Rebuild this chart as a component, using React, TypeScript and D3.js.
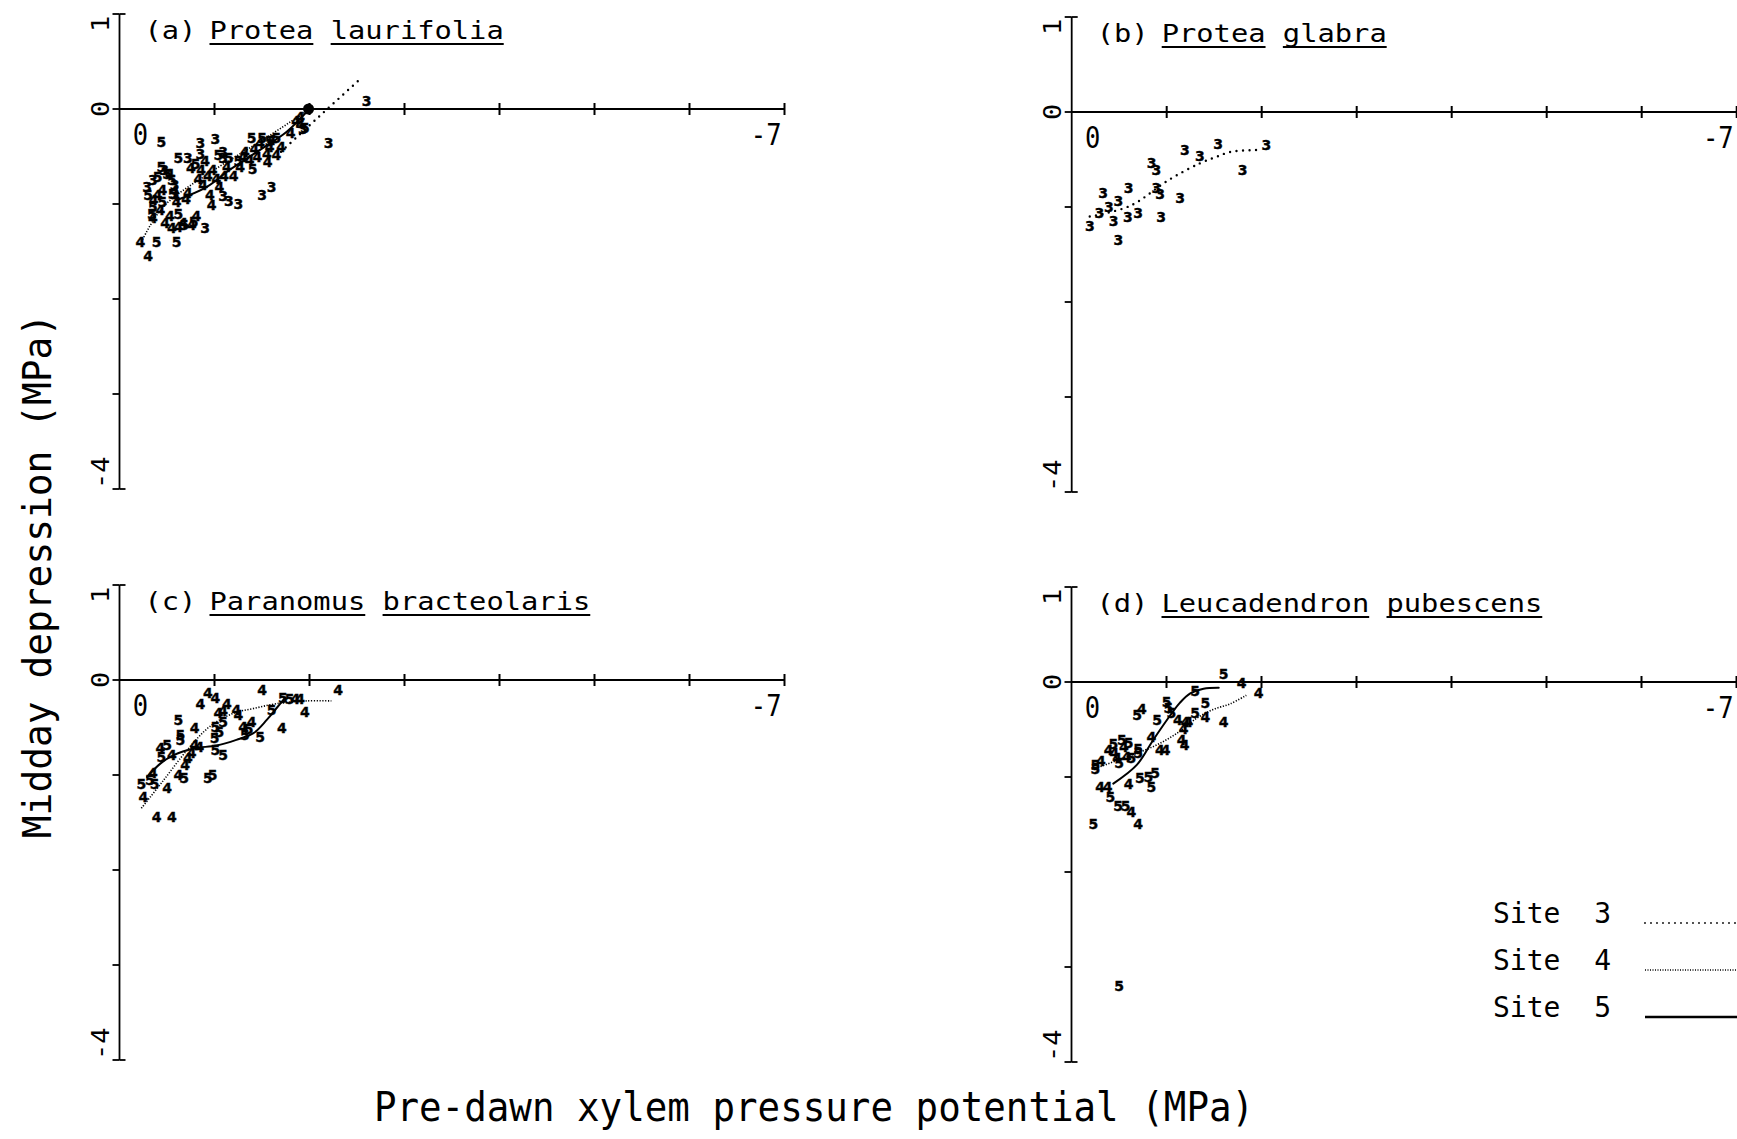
import React from "react";
import * as d3 from "d3";

// ---- data: pre-dawn (x) vs midday depression (y), MPa, by site ----
type Pt = [number, number];

const panelTags = ["(a)", "(b)", "(c)", "(d)"];
const genus = ["Protea", "Protea", "Paranomus", "Leucadendron"];
const epithet = ["laurifolia", "glabra", "bracteolaris", "pubescens"];

const siteNames = ["3", "4", "5"];
const xTicks = [0, -1, -2, -3, -4, -5, -6, -7];
const yTicks = [1, 0, -1, -2, -3, -4];

const aSite3: Pt[] = [[-2.6,0.08],[-2.2,-0.36],[-0.85,-0.36],[-1.01,-0.32],[-0.85,-0.47],[-1.09,-0.45],[-0.72,-0.52],[-1.09,-0.52],[-0.29,-0.82],[-0.58,-0.8],[-0.58,-0.89],[-1.09,-0.92],[-1.25,-1.0],[-1.5,-0.91],[-1.6,-0.82],[-0.9,-1.25],[-1.9,-0.15],[-1.93,-0.21],[-0.47,-0.64],[-0.35,-0.75],[-1.15,-0.97]];
const aSite4: Pt[] = [[-0.22,-1.4],[-0.3,-1.55],[-0.36,-0.96],[-0.43,-1.06],[-0.53,-1.13],[-0.48,-1.2],[-0.62,-1.24],[-0.67,-1.2],[-0.76,-1.22],[-0.81,-1.13],[-0.53,-0.68],[-0.58,-0.86],[-0.86,-0.64],[-0.93,-0.71],[-0.83,-0.74],[-0.98,-0.64],[-1.02,-0.74],[-0.97,-1.01],[-1.13,-0.61],[-1.2,-0.71],[-1.27,-0.61],[-1.32,-0.45],[-1.37,-0.54],[-1.48,-0.36],[-1.55,-0.47],[-1.58,-0.4],[-1.65,-0.48],[-1.56,-0.56],[-1.9,-0.08],[-1.86,-0.13],[-0.4,-0.9],[-0.7,-0.95],[-1.05,-0.82],[-1.42,-0.42],[-0.88,-0.8],[-0.45,-0.85],[-0.6,-0.98],[-0.72,-0.88],[-0.95,-0.9],[-1.1,-0.7],[-1.3,-0.5],[-1.45,-0.5],[-1.6,-0.33],[-1.7,-0.4],[-1.8,-0.25],[-0.35,-1.15],[-0.55,-1.25],[-0.9,-0.55],[-0.75,-0.62]];
const aSite5: Pt[] = [[-0.44,-0.35],[-0.62,-0.52],[-0.39,-1.4],[-0.6,-1.4],[-1.39,-0.31],[-1.5,-0.31],[-0.44,-0.61],[-0.5,-0.68],[-0.35,-1.03],[-0.34,-1.1],[-0.78,-1.19],[-1.04,-0.48],[-1.4,-0.63],[-0.56,-0.89],[-0.45,-0.98],[-1.95,-0.2],[-1.58,-0.34],[-0.55,-0.75],[-0.68,-1.22],[-1.25,-0.55],[-0.4,-0.72],[-0.3,-0.9],[-0.62,-1.1],[-0.8,-0.58],[-1.15,-0.52],[-1.65,-0.3]];

const bSite3: Pt[] = [[-1.19,-0.4],[-1.35,-0.46],[-1.54,-0.34],[-2.05,-0.35],[-1.8,-0.61],[-0.84,-0.54],[-0.89,-0.61],[-0.33,-0.85],[-0.6,-0.8],[-0.89,-0.8],[-0.93,-0.86],[-1.14,-0.91],[-0.49,-0.94],[-0.39,-1.0],[-0.29,-1.06],[-0.7,-1.06],[-0.59,-1.11],[-0.44,-1.15],[-0.19,-1.2],[-0.94,-1.11],[-0.49,-1.35]];

const cSite4: Pt[] = [[-0.93,-0.14],[-1.01,-0.19],[-0.85,-0.25],[-1.5,-0.11],[-2.3,-0.11],[-1.9,-0.2],[-1.95,-0.34],[-1.71,-0.51],[-1.13,-0.25],[-1.04,-0.35],[-1.09,-0.33],[-1.23,-0.32],[-1.25,-0.37],[-1.39,-0.44],[-1.3,-0.49],[-0.79,-0.51],[-0.79,-0.68],[-0.84,-0.7],[-0.43,-0.72],[-0.55,-0.79],[-0.72,-0.82],[-0.76,-0.77],[-0.69,-0.89],[-0.62,-1.0],[-0.35,-0.98],[-0.5,-1.14],[-0.25,-1.23],[-0.39,-1.44],[-0.55,-1.44],[-1.85,-0.2]];
const cSite5: Pt[] = [[-1.72,-0.19],[-1.79,-0.2],[-1.6,-0.32],[-1.32,-0.58],[-1.48,-0.6],[-1.09,-0.44],[-1.01,-0.49],[-1.0,-0.61],[-1.01,-0.74],[-1.09,-0.79],[-0.62,-0.42],[-0.64,-0.58],[-0.64,-0.63],[-0.5,-0.68],[-0.44,-0.81],[-0.68,-1.03],[-0.93,-1.03],[-0.98,-1.0],[-0.23,-1.09],[-0.32,-1.05],[-0.37,-1.09],[-1.36,-0.52],[-1.05,-0.55]];

const dSite4: Pt[] = [[-1.79,-0.01],[-1.97,-0.12],[-1.6,-0.42],[-1.41,-0.37],[-1.23,-0.42],[-1.12,-0.4],[-1.2,-0.42],[-1.18,-0.49],[-1.16,-0.61],[-1.19,-0.66],[-0.74,-0.28],[-0.84,-0.58],[-0.93,-0.72],[-0.99,-0.72],[-0.39,-0.72],[-0.58,-0.79],[-0.31,-0.83],[-0.45,-0.75],[-0.6,-1.07],[-0.3,-1.1],[-0.38,-1.1],[-0.63,-1.37],[-0.7,-1.49],[-0.55,-0.68],[-0.48,-0.8]];
const dSite5: Pt[] = [[-1.6,0.08],[-1.3,-0.09],[-1.41,-0.22],[-1.3,-0.33],[-1.0,-0.21],[-1.02,-0.27],[-1.05,-0.33],[-0.69,-0.35],[-0.9,-0.4],[-0.7,-0.7],[-0.53,-0.61],[-0.25,-0.87],[-0.25,-0.92],[-0.5,-0.85],[-0.63,-0.8],[-0.7,-0.75],[-0.81,-1.0],[-0.88,-0.96],[-0.72,-1.01],[-0.84,-1.1],[-0.41,-1.21],[-0.49,-1.31],[-0.57,-1.31],[-0.23,-1.49],[-0.5,-3.2],[-0.44,-0.65],[-0.6,-0.64]];

// fitted trend curves per site
const aFit3: Pt[] = [[-1.7,-0.45],[-2.1,-0.08],[-2.55,0.33]];
const aFit4: Pt[] = [[-0.23,-1.4],[-0.46,-1.03],[-1.0,-0.64],[-1.5,-0.33],[-1.99,-0.01]];
const aFit5: Pt[] = [[-0.6,-0.96],[-0.92,-0.82],[-1.16,-0.64],[-1.48,-0.43],[-1.76,-0.24],[-1.99,-0.01]];
const bFit3: Pt[] = [[-0.19,-1.1],[-0.61,-0.99],[-1.03,-0.71],[-1.35,-0.54],[-1.53,-0.47],[-1.67,-0.42],[-1.95,-0.4]];
const cFit4: Pt[] = [[-0.23,-1.35],[-0.46,-1.06],[-0.71,-0.74],[-0.95,-0.49],[-1.2,-0.35],[-1.41,-0.3],[-1.65,-0.25],[-1.97,-0.22],[-2.23,-0.22]];
const cFit5: Pt[] = [[-0.29,-1.02],[-0.43,-0.88],[-0.57,-0.79],[-0.78,-0.72],[-1.02,-0.69],[-1.23,-0.63],[-1.41,-0.56],[-1.55,-0.42],[-1.65,-0.3],[-1.74,-0.19]];
const dFit4: Pt[] = [[-0.25,-0.91],[-0.55,-0.8],[-0.86,-0.68],[-1.11,-0.54],[-1.32,-0.38],[-1.49,-0.29],[-1.67,-0.23],[-1.84,-0.14]];
const dFit5: Pt[] = [[-0.44,-1.07],[-0.69,-0.87],[-0.86,-0.61],[-1.04,-0.35],[-1.14,-0.22],[-1.25,-0.12],[-1.39,-0.07],[-1.55,-0.06]];

// convergence point of the fits in (a)
const aJoin: Pt = [-1.99, 0];

const W = 1737;
const H = 1139;
const UNIT = 95;
const MONO = "'DejaVu Sans Mono', monospace";

type SiteSet = { site: string; pts: Pt[] }[];

const panels: { ox: number; oy: number; points: SiteSet; fits: SiteSet; join?: Pt }[] = [
  { ox: 119.5, oy: 109, points: [{ site: "3", pts: aSite3 }, { site: "4", pts: aSite4 }, { site: "5", pts: aSite5 }], fits: [{ site: "3", pts: aFit3 }, { site: "4", pts: aFit4 }, { site: "5", pts: aFit5 }], join: aJoin },
  { ox: 1071.7, oy: 112, points: [{ site: "3", pts: bSite3 }], fits: [{ site: "3", pts: bFit3 }] },
  { ox: 119.5, oy: 680, points: [{ site: "4", pts: cSite4 }, { site: "5", pts: cSite5 }], fits: [{ site: "4", pts: cFit4 }, { site: "5", pts: cFit5 }] },
  { ox: 1071.5, oy: 682, points: [{ site: "4", pts: dSite4 }, { site: "5", pts: dSite5 }], fits: [{ site: "4", pts: dFit4 }, { site: "5", pts: dFit5 }] },
];

function fitStyle(site: string) {
  if (site === "3") return { strokeWidth: 2.4, strokeDasharray: "0 6.5", strokeLinecap: "round" as const };
  if (site === "4") return { strokeWidth: 1.6, strokeDasharray: "1.2 1.6", strokeLinecap: "butt" as const };
  return { strokeWidth: 2, strokeDasharray: undefined, strokeLinecap: "round" as const };
}

function Panel({ idx }: { idx: number }) {
  const p = panels[idx];
  const x = d3.scaleLinear().domain([0, -7]).range([p.ox, p.ox + 7 * UNIT]);
  const y = d3.scaleLinear().domain([0, -4]).range([p.oy, p.oy + 4 * UNIT]);
  const line = d3
    .line<Pt>()
    .x((d) => x(d[0]))
    .y((d) => y(d[1]))
    .curve(d3.curveCatmullRom.alpha(0.5));

  const titleY = p.oy - 70;
  const sx = 1.15;
  const adv = 25 * 0.602; // monospace advance at 25px
  const g = genus[idx];
  const e = epithet[idx];
  const spX = p.ox + 90;

  return (
    <g>
      {/* title */}
      <g transform={`translate(${p.ox + 25},${titleY}) scale(${sx},1)`}>
        <text x={0} y={0} fontFamily={MONO} fontSize={25}>
          {panelTags[idx]}
        </text>
      </g>
      <g transform={`translate(${spX},${titleY}) scale(${sx},1)`}>
        <text x={0} y={0} fontFamily={MONO} fontSize={25} xmlSpace="preserve">
          {`${g} ${e}`}
        </text>
        <line x1={0} x2={g.length * adv} y1={5} y2={5} stroke="#000" strokeWidth={1.8} />
        <line x1={(g.length + 1) * adv} x2={(g.length + 1 + e.length) * adv} y1={5} y2={5} stroke="#000" strokeWidth={1.8} />
      </g>

      {/* y axis */}
      <line x1={p.ox} x2={p.ox} y1={y(1)} y2={y(-4)} stroke="#000" strokeWidth={1.8} />
      <line x1={p.ox} x2={p.ox + 6} y1={y(1)} y2={y(1)} stroke="#000" strokeWidth={1.8} />
      <line x1={p.ox} x2={p.ox + 6} y1={y(-4)} y2={y(-4)} stroke="#000" strokeWidth={1.8} />
      {yTicks.map((t) => (
        <line key={`yt${t}`} x1={p.ox - 7} x2={p.ox} y1={y(t)} y2={y(t)} stroke="#000" strokeWidth={1.8} />
      ))}
      <text transform={`translate(${p.ox - 11},${y(1) + 10}) rotate(-90) scale(1,0.95)`} fontFamily={MONO} fontSize={27} textAnchor="middle">1</text>
      <text transform={`translate(${p.ox - 11},${y(0)}) rotate(-90) scale(1,0.95)`} fontFamily={MONO} fontSize={27} textAnchor="middle">0</text>
      <text transform={`translate(${p.ox - 11},${y(-4)}) rotate(-90) scale(1,0.95)`} fontFamily={MONO} fontSize={27} textAnchor="start">-4</text>

      {/* x axis */}
      <line x1={p.ox} x2={x(-7)} y1={y(0)} y2={y(0)} stroke="#000" strokeWidth={2} />
      {xTicks.slice(1).map((t) => (
        <line key={`xt${t}`} x1={x(t)} x2={x(t)} y1={y(0) - 6} y2={y(0) + 6} stroke="#000" strokeWidth={2} />
      ))}
      <text transform={`translate(${x(0) + 21},${y(0) + 36}) scale(0.85,1)`} fontFamily={MONO} fontSize={30} textAnchor="middle">0</text>
      <text transform={`translate(${x(-7) - 3},${y(0) + 36}) scale(0.85,1)`} fontFamily={MONO} fontSize={30} textAnchor="end">-7</text>

      {/* fitted curves */}
      {p.fits.map((f) => {
        const s = fitStyle(f.site);
        return (
          <path key={`f${f.site}`} d={line(f.pts) || ""} fill="none" stroke="#000" strokeWidth={s.strokeWidth} strokeDasharray={s.strokeDasharray} strokeLinecap={s.strokeLinecap} />
        );
      })}
      {p.join && <circle cx={x(p.join[0])} cy={y(p.join[1])} r={5.5} fill="#000" />}

      {/* observations, plotted as the site number */}
      {p.points.map((s) =>
        s.pts.map((d, i) => (
          <text key={`${s.site}-${i}`} x={x(d[0])} y={y(d[1])} dy="0.36em" textAnchor="middle" fontFamily="'DejaVu Sans', sans-serif" fontWeight="bold" fontSize={14} stroke="#000" strokeWidth={0.4}>
            {s.site}
          </text>
        ))
      )}
    </g>
  );
}

export default function App() {
  const legendY = [923, 970, 1017];
  return (
    <svg width={W} height={H} viewBox={`0 0 ${W} ${H}`} style={{ position: "absolute", left: 0, top: 0, background: "#fff" }}>
      <rect width={W} height={H} fill="#fff" />
      {panels.map((_, i) => (
        <Panel key={i} idx={i} />
      ))}

      {/* axis titles */}
      <text transform={`translate(814,1121) scale(1,1.1)`} fontFamily={MONO} fontSize={37.5} textAnchor="middle">
        Pre-dawn xylem pressure potential (MPa)
      </text>
      <text transform={`translate(51,576) rotate(-90) scale(1.01,1.05)`} fontFamily={MONO} fontSize={37.5} textAnchor="middle">
        Midday depression (MPa)
      </text>

      {/* legend */}
      {siteNames.map((s, i) => (
        <g key={`lg${s}`}>
          <text x={1493} y={legendY[i]} fontFamily={MONO} fontSize={28} xmlSpace="preserve">
            {`Site  ${s}`}
          </text>
          <line x1={1645} x2={W} y1={legendY[i]} y2={legendY[i]} stroke="#000" strokeWidth={s === "3" ? 1.8 : s === "4" ? 1.4 : 2.4} strokeDasharray={s === "3" ? "0 6" : s === "4" ? "1 1.5" : undefined} strokeLinecap={s === "3" ? "round" : "butt"} />
        </g>
      ))}
    </svg>
  );
}
